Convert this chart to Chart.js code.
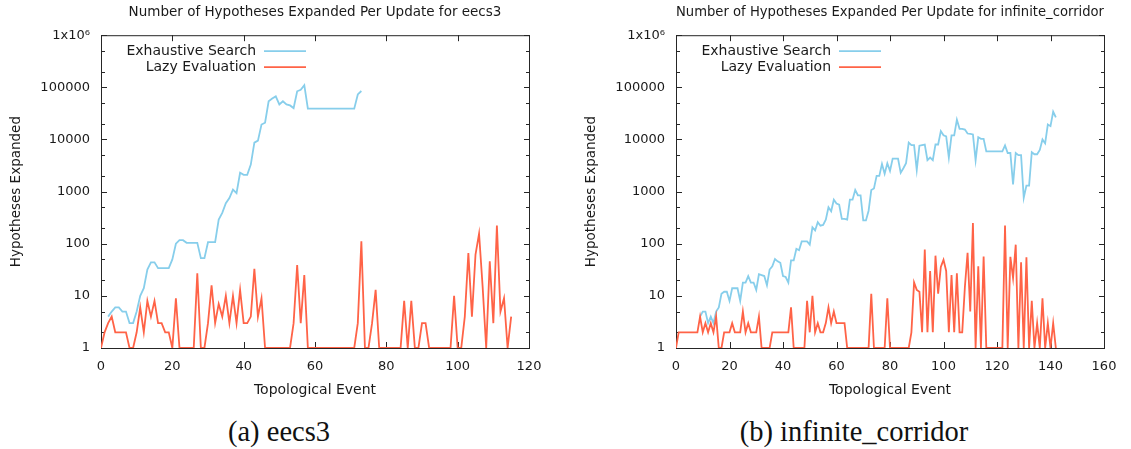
<!DOCTYPE html>
<html>
<head>
<meta charset="utf-8">
<script src="https://cdn.jsdelivr.net/npm/chart.js@4.4.1/dist/chart.umd.min.js"></script>
<style>
  body { margin: 0; background: #fff; width: 1131px; height: 449px; position: relative; overflow: hidden; }
  .plot { position: absolute; top: 0; height: 410px; }
  #eecs3Box { left: 0; width: 560px; }
  #corridorBox { left: 575px; width: 556px; }
  .caption {
    position: absolute; top: 417px; line-height: 30px;
    font-family: 'Liberation Serif', 'DejaVu Serif', serif; font-size: 28.5px; color: #111;
    transform: translateX(-50%); white-space: nowrap;
  }
</style>
</head>
<body>
<div class="plot" id="eecs3Box"><canvas id="eecs3Chart"></canvas></div>
<div class="plot" id="corridorBox"><canvas id="corridorChart"></canvas></div>
<div class="caption" style="left: 279px">(a) eecs3</div>
<div class="caption" style="left: 854px">(b) infinite_corridor</div>

<script>
// hypotheses expanded per topological event (first event index, then one value per event)
const eecs3ExhaustiveStart = 2;
const eecs3Exhaustive = [
  4, 5, 6, 6, 5, 5, 3, 3, 5, 10,
  14, 32, 44, 44, 34, 34, 34, 34, 50, 100,
  117, 117, 104, 104, 104, 104, 53, 53, 107, 107,
  107, 290, 390, 600, 750, 1090, 930, 2300, 2100, 2100,
  3300, 8700, 9500, 19300, 21000, 54000, 61000, 67000, 47000, 54000,
  47000, 45000, 40000, 84000, 90000, 110000,
  39000, 39000, 39000, 39000, 39000, 39000, 39000, 39000, 39000, 39000, 39000, 39000, 39000, 39000,
  73000, 85000
];
const eecs3LazyStart = 0;
const eecs3Lazy = [
  1, 2, 3, 4, 2, 2, 2, 2, 1, 1,
  2, 6, 2, 8, 4, 8, 3, 3, 2, 2,
  1, 9, 1, 1, 1, 1, 1, 27, 1, 1,
  3, 16, 3, 7, 4, 10, 3, 10, 3, 13,
  3, 3, 4, 33, 4, 9, 1, 1, 1, 1,
  1, 1, 1, 1, 3, 39, 3, 25, 1, 1,
  1, 1, 1, 1, 1, 1, 1, 1, 1, 1,
  1, 1, 3, 112, 1, 1, 3, 13, 1, 1,
  1, 1, 1, 1, 1, 8, 1, 8, 1, 1,
  3, 3, 1, 1, 1, 1, 1, 1, 1, 10,
  1, 1, 4, 66, 4, 62, 156, 15, 1, 46,
  3, 223, 5, 9, 1, 4
];

const corridorExhaustiveStart = 9;
const corridorExhaustive = [
  4, 5, 5, 3, 4, 3, 5, 6, 11, 12,
  12, 8, 14, 14, 14, 8, 18, 18, 24, 18,
  18, 13, 26, 25, 24, 16, 32, 37, 51, 46,
  43, 24, 23, 18, 48, 48, 80, 75, 111, 111,
  111, 96, 207, 180, 259, 222, 230, 290, 500, 420,
  700, 590, 560, 300, 300, 290, 700, 700, 1070, 850,
  850, 280, 280, 430, 1070, 1150, 2000, 2000, 3400, 2200,
  3500, 2500, 4300, 4300, 4300, 2300, 2800, 3500, 8700, 7800,
  7800, 2600, 7600, 7800, 8000, 4000, 4500, 4000, 8000, 8000,
  14500, 12000, 11500, 4500, 12000, 12000, 24000, 16000, 16000, 15500,
  13000, 12800, 12500, 4000, 11000, 10300, 10300, 5900, 5900, 5900,
  5900, 5900, 5900, 5900, 7700, 5500, 5500, 1370, 5500, 5000,
  5000, 760, 1300, 1300, 5700, 5200, 5200, 6300, 10000, 8400,
  19300, 18000, 34000, 26500
];
const corridorLazyStart = 0;
const corridorLazy = [
  1, 2, 2, 2, 2, 2, 2, 2, 2, 4,
  2, 3, 2, 3, 2, 4, 1, 1, 2, 2,
  2, 3, 2, 2, 2, 5, 2, 3, 2, 2,
  2, 4, 1, 1, 1, 1, 2, 2, 2, 2,
  2, 2, 2, 6, 1, 1, 1, 1, 1, 8,
  2, 10, 2, 3, 2, 2, 3, 6, 3, 5,
  3, 3, 3, 3, 1, 1, 1, 1, 1, 1,
  1, 1, 1, 11, 1, 1, 1, 1, 1, 9,
  1, 1, 1, 1, 1, 1, 1, 1, 2, 18,
  13, 12, 2, 77, 2, 30, 2, 59, 11, 36,
  49, 30, 2, 25, 2, 27, 2, 2, 15, 67,
  5, 250, 1, 37, 1, 57, 1, 1, 1, 1,
  1, 1, 1, 223, 1, 56, 22, 96, 1, 44,
  1, 55, 1, 8, 1, 3, 1, 9, 1, 3,
  1, 3, 1
];

const yDecades = [1, 10, 100, 1000, 10000, 100000, 1000000];

const textColor = '#1a1a1a';
const exhaustiveColor = '#87ceeb';
const lazyColor = '#ff6347';
const tickFont = { family: 'DejaVu Sans', size: 13, weight: 'normal' };
const titleFont = { family: 'DejaVu Sans', size: 13.5, weight: 'normal' };
const axisTitleFont = { family: 'DejaVu Sans', size: 14, weight: 'normal' };

function toPoints(start, values) {
  return values.map((v, k) => ({ x: start + k, y: v }));
}

// gnuplot style frame: border box with inward tics on all four sides, key in the top left
const gnuplotFrame = {
  id: 'gnuplotFrame',
  beforeDatasetsDraw(chart) {
    const { ctx, chartArea: a, scales } = chart;
    ctx.save();
    ctx.strokeStyle = '#262626';
    ctx.lineWidth = 1;
    ctx.strokeRect(a.left + 0.5, a.top + 0.5, a.right - a.left, a.bottom - a.top);
    ctx.beginPath();
    scales.x.ticks.forEach(t => {
      const px = Math.round(scales.x.getPixelForValue(t.value)) + 0.5;
      ctx.moveTo(px, a.bottom); ctx.lineTo(px, a.bottom - 6);
      ctx.moveTo(px, a.top); ctx.lineTo(px, a.top + 6);
    });
    yDecades.forEach(d => {
      [[d, 6], [d * 2, 4], [d * 5, 4]].forEach(([v, len]) => {
        if (v > 1000000) return;
        const py = Math.round(scales.y.getPixelForValue(v)) + 0.5;
        ctx.moveTo(a.left, py); ctx.lineTo(a.left + len, py);
        ctx.moveTo(a.right + 1, py); ctx.lineTo(a.right + 1 - len, py);
      });
    });
    ctx.stroke();
    ctx.restore();
  },
  afterDatasetsDraw(chart) {
    const { ctx, chartArea: a } = chart;
    ctx.save();
    ctx.font = '14px "DejaVu Sans"';
    ctx.textAlign = 'right';
    ctx.textBaseline = 'middle';
    chart.data.datasets.forEach((ds, k) => {
      const y = a.top + 16 + k * 16;
      ctx.fillStyle = textColor;
      ctx.fillText(ds.label, a.left + 155, y);
      ctx.strokeStyle = ds.borderColor;
      ctx.lineWidth = ds.borderWidth;
      ctx.beginPath();
      ctx.moveTo(a.left + 163, y);
      ctx.lineTo(a.left + 205, y);
      ctx.stroke();
    });
    ctx.restore();
  }
};

function drawPlot(canvasId, title, xMax, padRight, exhaustive, lazy) {
  return new Chart(document.getElementById(canvasId), {
    type: 'line',
    data: {
      datasets: [
        { label: 'Exhaustive Search', data: exhaustive, borderColor: exhaustiveColor,
          borderWidth: 1.8, pointRadius: 0, order: 1 },
        { label: 'Lazy Evaluation', data: lazy, borderColor: lazyColor,
          borderWidth: 1.8, pointRadius: 0, order: 0 }
      ]
    },
    options: {
      responsive: true,
      maintainAspectRatio: false,
      animation: false,
      layout: { padding: { left: 0, right: padRight, top: 0, bottom: 0 } },
      plugins: {
        legend: { display: false },
        tooltip: { enabled: false },
        title: {
          display: true, text: title, fullSize: false, color: textColor,
          font: titleFont, padding: { top: 4, bottom: 15 }
        }
      },
      scales: {
        x: {
          type: 'linear', min: 0, max: xMax,
          grid: { display: false, drawTicks: false },
          border: { display: false },
          ticks: { stepSize: 20, padding: 11, maxRotation: 0, color: textColor, font: tickFont },
          title: { display: true, text: 'Topological Event', color: textColor, font: axisTitleFont,
                   padding: { top: 0, bottom: 11 } },
          afterFit: s => { s.height = 62; }
        },
        y: {
          type: 'logarithmic', min: 1, max: 1000000,
          grid: { display: false, drawTicks: false },
          border: { display: false },
          ticks: {
            padding: 11, autoSkip: false, color: textColor, font: tickFont,
            callback: v => v === 1000000 ? '1x10\u2076' : String(v)
          },
          afterBuildTicks: s => { s.ticks = yDecades.map(v => ({ value: v })); },
          title: { display: true, text: 'Hypotheses Expanded', color: textColor, font: titleFont,
                   padding: { top: 8, bottom: 0 } },
          afterFit: s => { s.width = 101; }
        }
      }
    },
    plugins: [gnuplotFrame]
  });
}

drawPlot('eecs3Chart', 'Number of Hypotheses Expanded Per Update for eecs3', 120, 31,
  toPoints(eecs3ExhaustiveStart, eecs3Exhaustive), toPoints(eecs3LazyStart, eecs3Lazy));
drawPlot('corridorChart', 'Number of Hypotheses Expanded Per Update for infinite_corridor', 160, 27,
  toPoints(corridorExhaustiveStart, corridorExhaustive), toPoints(corridorLazyStart, corridorLazy));
</script>
</body>
</html>
